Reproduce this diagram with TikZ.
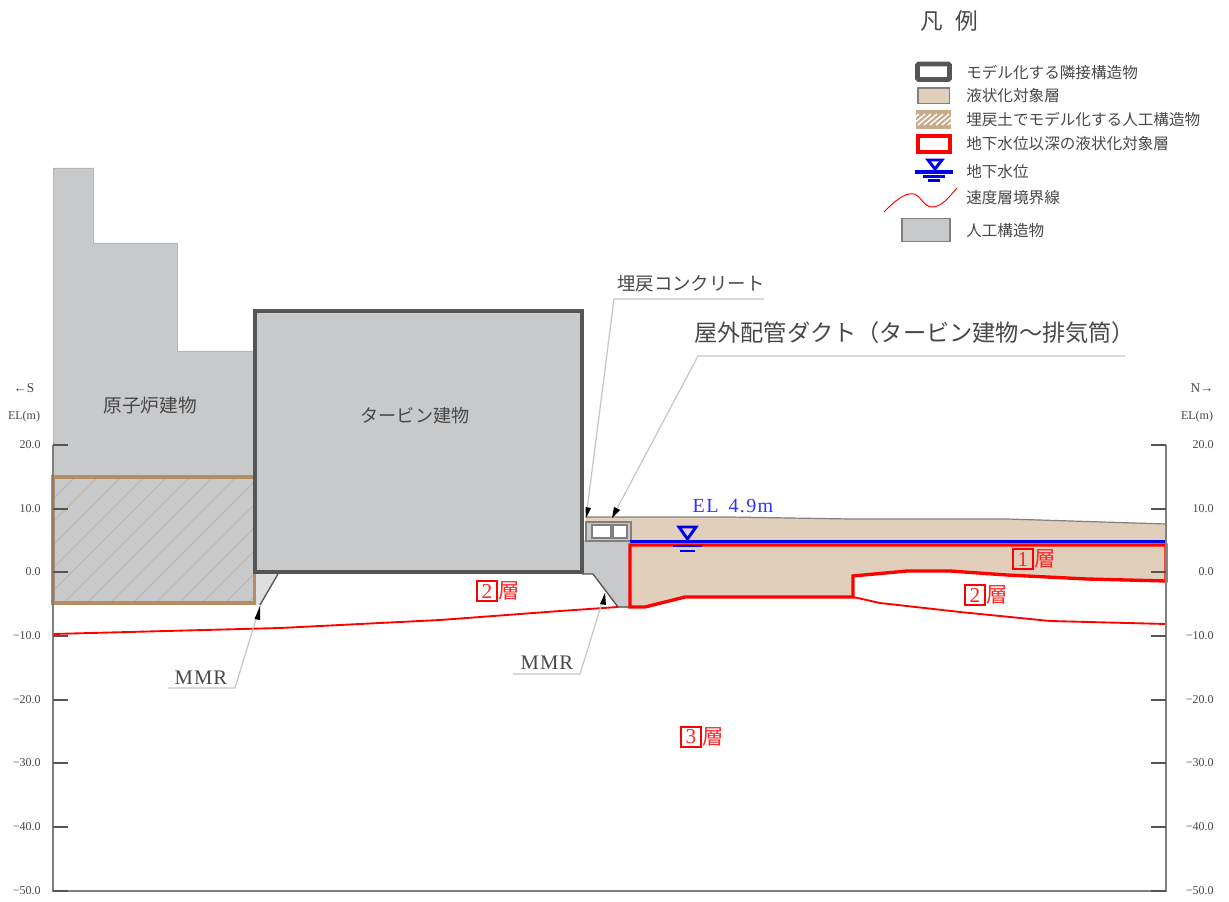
\documentclass[tikz,border=0pt]{standalone}
\usepackage{fontspec}
\newfontfamily\cjk{Noto Sans CJK JP}
\setmainfont{Liberation Serif}
\newfontfamily\spaced[LetterSpace=7]{Liberation Serif}
\newfontfamily\spacedb[LetterSpace=5]{Liberation Serif}
\definecolor{struct}{HTML}{C8C9CB}
\definecolor{sand}{HTML}{E1CFBB}
\definecolor{bldg}{HTML}{555555}
\definecolor{hatchb}{HTML}{B48D63}
\definecolor{hatchf}{HTML}{BDB3A8}
\definecolor{axisg}{HTML}{808080}
\definecolor{txt}{HTML}{484848}
\definecolor{wblue}{HTML}{0000F0}
\definecolor{lred}{HTML}{FF0000}
\tikzset{
 x=0.75pt,y=-0.75pt,
 ax/.style={draw=axisg,line width=1.1pt},
 tick/.style={draw=bldg,line width=0.9pt},
 elab/.style={font=\fontsize{9}{10}\selectfont,text=txt,inner sep=0pt},
 arr/.style={font=\fontsize{10}{10}\selectfont,text=txt,inner sep=0pt},
 jp/.style={font=\cjk\fontsize{#1}{#1}\selectfont,text=txt,inner sep=0pt},
 leg/.style={font=\cjk\fontsize{11.7}{12}\selectfont,text=txt,inner sep=0pt,anchor=west},
 mmr/.style={font=\spacedb\fontsize{15.5}{15.5}\selectfont,text=txt,inner sep=0pt},
 leader/.style={draw=gray!45,line width=0.9pt},
 wedge/.style={fill=black},
 rl/.style={draw=lred,line width=1.4pt},
 rthick/.style={draw=lred,line width=2.5pt},
 layer/.style={font=\cjk\fontsize{16}{16}\selectfont,text=lred!85,inner sep=0pt},
 num/.style={draw=lred,line width=1.4pt,inner sep=0pt,font=\fontsize{16}{16}\selectfont,text=lred!85,minimum size=15.5pt},
 wsym/.style={draw=wblue,line width=2.2pt},
}
\begin{document}
\begin{tikzpicture}
\useasboundingbox[fill=white] (0,0) rectangle (1229,902);
% structures
\path[fill=struct,draw=struct!90!black,line width=.5pt] (53,168)--(93,168)--(93,243)--(177,243)--(177,351)--(254,351)--(254,603)--(53,603)--cycle;
\begin{scope}
\clip (53,477) rectangle (255,603);
\foreach \s in {-120,-97,...,260}{\draw[hatchf,line width=.7pt] (\s,603)--(\s+126,477);}
\end{scope}
\draw[hatchb,line width=2.4pt] (53,477) rectangle (255,603);
% MMR left
\path[fill=gray!25] (256,574)--(278,574)--(260,605)--(256,605)--cycle;
\draw[bldg,line width=1pt] (278,574)--(260,605);
% sand
\path[fill=sand] (586,517)--(730,517)--(850,519)--(1007,519)--(1166,524)--(1166,544)--(586,544)--cycle;
\draw[gray,line width=.9pt] (586,517)--(730,517)--(850,519)--(1007,519)--(1166,524);
\path[fill=sand] (630,544)--(1166,544)--(1166,581)--(1087,579)--(1007,575)--(950,571)--(907,571)--(853,576)--(853,597)--(685,597)--(645,607)--(630,607)--cycle;
% backfill
\path[fill=struct] (584,540)--(630,540)--(630,608)--(618,608)--(593,574)--(584,574)--cycle;
\draw[bldg,line width=1pt] (582,574)--(593,574)--(618,607)--(630,607);
% duct
\path[fill=struct,draw=gray,line width=.8pt] (586,522) rectangle (631,541);
\draw[gray,fill=white,line width=.8pt] (592,525) rectangle (611,538);
\draw[gray,fill=white,line width=.8pt] (613,525) rectangle (627,538);
% turbine
\path[fill=struct,draw=bldg,line width=3.6pt] (255,311) rectangle (582,572);
% velocity lines
\draw[rl] (53,634)--(280,628)--(440,620)--(560,611)--(618,607);
\draw[rl] (853,597)--(880,603)--(960,612)--(1050,621)--(1166,624);
% red region
\path[rthick,line join=miter] (630,545)--(1166,545)--(1166,581)--(1087,579)--(1007,575)--(950,571)--(907,571)--(853,576)--(853,597)--(685,597)--(645,607)--(630,607)--cycle;
\draw[wblue,line width=2.6pt] (630,541.5)--(1166,541.5);
% water symbol
\draw[wsym] (679,527)--(696,527)--(687.5,539)--cycle;
\draw[wsym] (673,546)--(702,546);
\draw[wsym] (680,551)--(695,551);
\node[inner sep=0pt,text=wblue!80,font=\spaced\fontsize{15}{15}\selectfont] (elw) at (733,506) {EL\hspace{.5em}4.9m};
% axes
\draw[ax] (53,445)--(53,891)--(1166,891)--(1166,445);
\foreach \v/\y in {20.0/445,10.0/509,0.0/572,−10.0/636,−20.0/700,−30.0/763,−40.0/827,−50.0/891}{
 \draw[tick] (53,\y)--(68,\y);
 \draw[tick] (1151,\y)--(1166,\y);
 \node[elab,anchor=east] at (41,\y) {\v};
 \node[elab,anchor=east] at (1214,\y) {\v};
}
\node[arr] at (24,388) {←S};
\node[arr] at (1202,388) {N→};
\node[elab] at (24,417) {EL(m)};
\node[elab] at (1197,417) {EL(m)};
% building labels
\node[jp=14] (rb) at (150,405) {原子炉建物};
\node[jp=13.6] (tb) at (415,416) {タービン建物};
% callouts
\node[jp=13.8,anchor=west] (c1) at (617,284) {埋戻コンクリート};
\node[jp=17.4,anchor=west] (c2) at (694,333) {屋外配管ダクト（タービン建物～排気筒）};
\node[mmr] (m1) at (201,678) {MMR};
\node[mmr] (m2) at (547,663) {MMR};
\coordinate (c1a) at (614,299); \coordinate (c1b) at (764,299); \coordinate (c1t) at (586,518);
\coordinate (c2a) at (698,356); \coordinate (c2b) at (1125,356); \coordinate (c2t) at (612,518);
\coordinate (m1a) at (168,688); \coordinate (m1b) at (235,688); \coordinate (m1t) at (260,606);
\coordinate (m2a) at (513,674); \coordinate (m2b) at (580,674); \coordinate (m2t) at (605,593);
\draw[leader] (c1b)--(c1a)--(c1t);
\draw[leader] (c2b)--(c2a)--(c2t);
\draw[leader] (m1a)--(m1b)--(m1t);
\draw[leader] (m2a)--(m2b)--(m2t);
\path[wedge] (c1t)--++(-0.5,-11)--++(5.5,1)--cycle;
\path[wedge] (c2t)--++(2,-11)--++(6,3)--cycle;
\path[wedge] (m1t)--++(-5.5,13)--++(5.5,1)--cycle;
\path[wedge] (m2t)--++(-5,11)--++(6,1)--cycle;
% layers
\node[num] (n1) at (1023,559) {1}; \node[layer,anchor=west] at (1034,559) {層};
\node[num] (n2a) at (487,591) {2}; \node[layer,anchor=west] at (498,591) {層};
\node[num] (n2b) at (975,595) {2}; \node[layer,anchor=west] at (986,595) {層};
\node[num] (n3) at (691,737) {3}; \node[layer,anchor=west] at (702,737) {層};
% legend
\node[jp=17] (lt) at (949,21) {凡\hspace{.55em}例};
\draw[bldg,line width=3.7pt,fill=white,rounded corners=1pt] (917.5,64) rectangle (949.5,79.5);
\draw[gray,line width=1.1pt,fill=sand] (918,88) rectangle (949.5,103.5);
\begin{scope}
\clip (916,110) rectangle (951,129);
\fill[hatchb!75] (916,110) rectangle (951,129);
\foreach \s in {900,906,...,950}{\draw[white,line width=1.1pt] (\s,125)--(\s+13,114);}
\end{scope}
\draw[lred,line width=3pt,fill=white] (918,136) rectangle (950,152);
\draw[wsym] (928,160)--(942,160)--(935,169)--cycle;
\draw[wblue,line width=2.4pt] (915,172)--(953,172);
\draw[wblue,line width=2pt] (923,176.5)--(945,176.5);
\draw[wblue,line width=2pt] (928,180.5)--(940,180.5);
\draw[lred,line width=.7pt] (884,212) .. controls (893,203) and (904,192) .. (914,194) .. controls (921,196) and (924,207) .. (932,207) .. controls (942,207) and (950,196) .. (957,188);
\draw[gray,line width=1.1pt,fill=struct] (902,218.5) rectangle (950,241.5);
\node[leg] at (966,72) {モデル化する隣接構造物};
\node[leg] at (966,96) {液状化対象層};
\node[leg] at (966,120) {埋戻土でモデル化する人工構造物};
\node[leg] at (966,144) {地下水位以深の液状化対象層};
\node[leg] at (966,172) {地下水位};
\node[leg] at (966,198) {速度層境界線};
\node[leg] at (966,231) {人工構造物};
\end{tikzpicture}
\end{document}
